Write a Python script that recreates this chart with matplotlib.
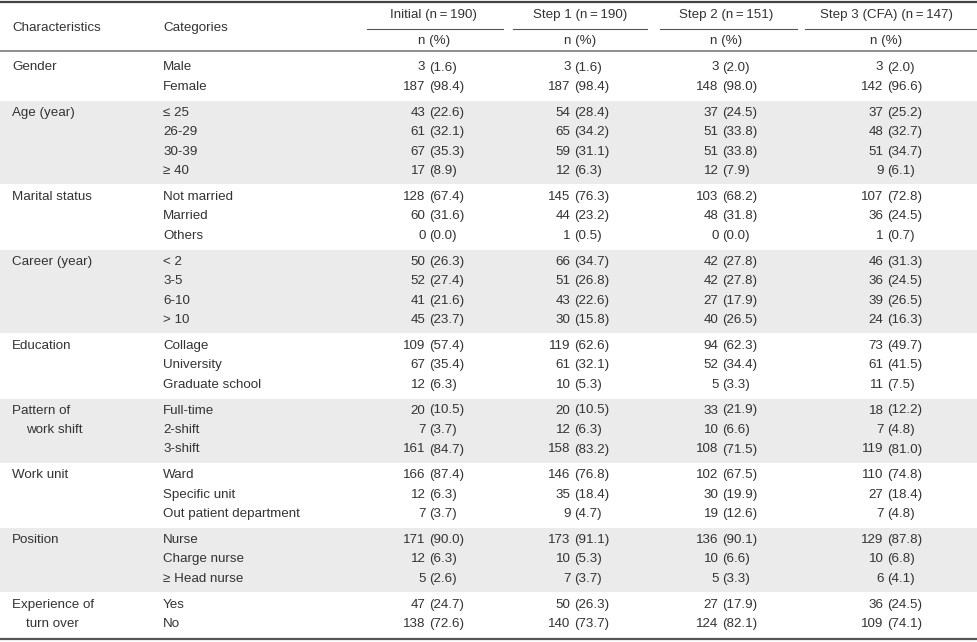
import matplotlib
matplotlib.use("Agg")
import matplotlib.pyplot as plt

plt.rcParams['font.family'] = ['Liberation Sans', 'DejaVu Sans']

# Table content
groups = [
    ["Gender"],
    ["Age (year)"],
    ["Marital status"],
    ["Career (year)"],
    ["Education"],
    ["Pattern of", "work shift"],
    ["Work unit"],
    ["Position"],
    ["Experience of", "turn over"],
]
categories = [
    ["Male", "Female"],
    ["\u2264 25", "26-29", "30-39", "\u2265 40"],
    ["Not married", "Married", "Others"],
    ["< 2", "3-5", "6-10", "> 10"],
    ["Collage", "University", "Graduate school"],
    ["Full-time", "2-shift", "3-shift"],
    ["Ward", "Specific unit", "Out patient department"],
    ["Nurse", "Charge nurse", "\u2265 Head nurse"],
    ["Yes", "No"],
]
col_titles = ["Initial (n\u2009=\u2009190)", "Step 1 (n\u2009=\u2009190)",
              "Step 2 (n\u2009=\u2009151)", "Step 3 (CFA) (n\u2009=\u2009147)"]

initial_n = [3, 187, 43, 61, 67, 17, 128, 60, 0, 50, 52, 41, 45, 109, 67, 12,
             20, 7, 161, 166, 12, 7, 171, 12, 5, 47, 138]
initial_pct = [1.6, 98.4, 22.6, 32.1, 35.3, 8.9, 67.4, 31.6, 0.0, 26.3, 27.4, 21.6, 23.7,
               57.4, 35.4, 6.3, 10.5, 3.7, 84.7, 87.4, 6.3, 3.7, 90.0, 6.3, 2.6, 24.7, 72.6]
step1_n = [3, 187, 54, 65, 59, 12, 145, 44, 1, 66, 51, 43, 30, 119, 61, 10,
           20, 12, 158, 146, 35, 9, 173, 10, 7, 50, 140]
step1_pct = [1.6, 98.4, 28.4, 34.2, 31.1, 6.3, 76.3, 23.2, 0.5, 34.7, 26.8, 22.6, 15.8,
             62.6, 32.1, 5.3, 10.5, 6.3, 83.2, 76.8, 18.4, 4.7, 91.1, 5.3, 3.7, 26.3, 73.7]
step2_n = [3, 148, 37, 51, 51, 12, 103, 48, 0, 42, 42, 27, 40, 94, 52, 5,
           33, 10, 108, 102, 30, 19, 136, 10, 5, 27, 124]
step2_pct = [2.0, 98.0, 24.5, 33.8, 33.8, 7.9, 68.2, 31.8, 0.0, 27.8, 27.8, 17.9, 26.5,
             62.3, 34.4, 3.3, 21.9, 6.6, 71.5, 67.5, 19.9, 12.6, 90.1, 6.6, 3.3, 17.9, 82.1]
step3_n = [3, 142, 37, 48, 51, 9, 107, 36, 1, 46, 36, 39, 24, 73, 61, 11,
           18, 7, 119, 110, 27, 7, 129, 10, 6, 36, 109]
step3_pct = [2.0, 96.6, 25.2, 32.7, 34.7, 6.1, 72.8, 24.5, 0.7, 31.3, 24.5, 26.5, 16.3,
             49.7, 41.5, 7.5, 12.2, 4.8, 81.0, 74.8, 18.4, 4.8, 87.8, 6.8, 4.1, 24.5, 74.1]

counts = [initial_n, step1_n, step2_n, step3_n]
pcts = [initial_pct, step1_pct, step2_pct, step3_pct]

# Layout in pixel units
W, H = 978, 642
TXT = '#333333'
FS = 9.6
col_span = [(367, 503), (513, 647), (660, 797), (805, 978)]
title_x = [434, 580, 726, 886]
paren_x = [429, 574, 722, 887]
row0, pitch, gap = 67.5, 19.5, 6.2

fig = plt.figure(figsize=(W / 100, H / 100), dpi=100)
ax = fig.add_axes([0, 0, 1, 1])
ax.set_xlim(0, W)
ax.set_ylim(H, 0)
ax.axis('off')

# Header
ax.text(12, 28, "Characteristics", fontsize=FS, color=TXT, va='center')
ax.text(163, 28, "Categories", fontsize=FS, color=TXT, va='center')
for (x0, x1), tx, title in zip(col_span, title_x, col_titles):
    ax.text(tx, 15, title, fontsize=FS, color=TXT, ha='center', va='center')
    ax.plot([x0, x1], [28.5, 28.5], color='#555555', lw=0.8)
    ax.text(tx, 41, "n (%)", fontsize=FS, color=TXT, ha='center', va='center')

ax.plot([0, W], [2, 2], color='#444444', lw=1.6)
ax.plot([0, W], [50.5, 50.5], color='#7a7a7a', lw=1.2)
ax.plot([0, W], [638.5, 638.5], color='#555555', lw=1.6)

# Body
i = 0
for g, (glabel, cats) in enumerate(zip(groups, categories)):
    ys = [row0 + (i + k) * pitch + g * gap for k in range(len(cats))]
    if g % 2 == 1:
        ax.axhspan(ys[0] - 12, ys[-1] + 13, color='#ebebeb', lw=0, zorder=0)
    for k, line in enumerate(glabel):
        ax.text(12 if k == 0 else 26, ys[k], line, fontsize=FS, color=TXT, va='center')
    for k, cat in enumerate(cats):
        y = ys[k]
        ax.text(163, y, cat, fontsize=FS, color=TXT, va='center')
        for c in range(4):
            ax.text(paren_x[c] - 3.5, y, f"{counts[c][i + k]}", fontsize=FS, color=TXT,
                    ha='right', va='center')
            ax.text(paren_x[c], y, f"({pcts[c][i + k]:.1f})", fontsize=FS, color=TXT,
                    ha='left', va='center')
    i += len(cats)

fig.savefig("out.png", dpi=100)
